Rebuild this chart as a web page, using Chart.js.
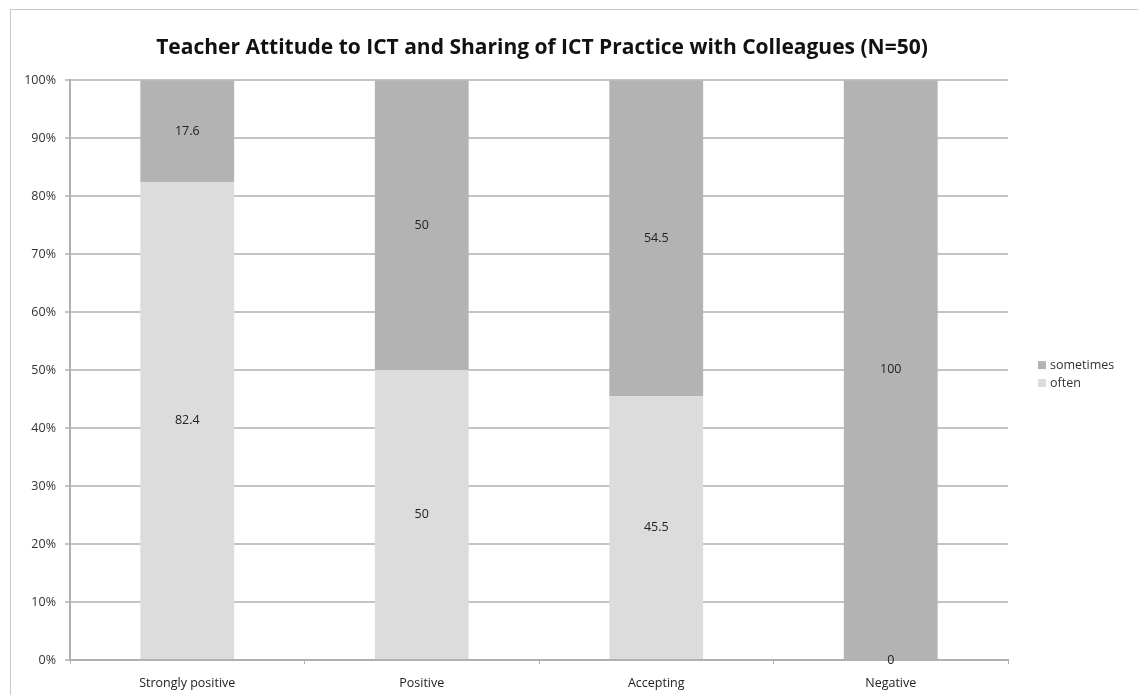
<!DOCTYPE html>
<html>
<head>
<meta charset="utf-8">
<script src="https://cdn.jsdelivr.net/npm/chart.js@4.4.1/dist/chart.umd.min.js"></script>
<style>
  html, body { margin: 0; padding: 0; background: #fff; }
  #frame { position: absolute; left: 10px; top: 9px; width: 1200px; height: 800px; border: 1px solid #c8c8c8; box-sizing: border-box; }
  #wrap { position: absolute; left: 0; top: 0; width: 1138px; height: 695px; }
</style>
</head>
<body>
<div id="frame"></div>
<div id="wrap"><canvas id="chart"></canvas></div>
<script>
// --- chart data ---
const categories = ['Strongly positive', 'Positive', 'Accepting', 'Negative'];
const oftenValues = [82.4, 50, 45.5, 0];
const sometimesValues = [17.6, 50, 54.5, 100];
const yTicks = [0, 10, 20, 30, 40, 50, 60, 70, 80, 90, 100];

const FONT = '"Open Sans", "DejaVu Sans", sans-serif';

// Value labels centred in each stacked segment
const segmentLabels = {
    id: 'segmentLabels',
    afterDatasetsDraw(chart) {
        const ctx = chart.ctx;
        ctx.save();
        ctx.font = '12.5px ' + FONT;
        ctx.fillStyle = '#222';
        ctx.textAlign = 'center';
        ctx.textBaseline = 'middle';
        chart.data.datasets.forEach((ds, i) => {
            chart.getDatasetMeta(i).data.forEach((bar, j) => {
                const mid = (bar.y + bar.base) / 2;
                ctx.fillText(String(ds.data[j]), bar.x, mid);
            });
        });
        ctx.restore();
    }
};

// Legend on the right, drawn next to the plot area
const sideLegend = {
    id: 'sideLegend',
    afterDraw(chart) {
        const ctx = chart.ctx;
        const area = chart.chartArea;
        const items = chart.data.datasets.slice().reverse();
        const x = area.right + 30;
        let y = (area.top + area.bottom) / 2 - 5;
        ctx.save();
        ctx.font = '12.5px ' + FONT;
        ctx.textBaseline = 'middle';
        items.forEach(ds => {
            ctx.fillStyle = ds.backgroundColor;
            ctx.fillRect(x, y - 4, 8, 8);
            ctx.fillStyle = '#333';
            ctx.fillText(ds.label, x + 12, y);
            y += 18;
        });
        ctx.restore();
    }
};

new Chart(document.getElementById('chart'), {
    type: 'bar',
    data: {
        labels: categories,
        datasets: [
            { label: 'often', data: oftenValues, backgroundColor: '#dcdcdc', categoryPercentage: 1, barPercentage: 0.4 },
            { label: 'sometimes', data: sometimesValues, backgroundColor: '#b3b3b3', categoryPercentage: 1, barPercentage: 0.4 }
        ]
    },
    options: {
        responsive: true,
        maintainAspectRatio: false,
        animation: false,
        layout: { padding: { left: 0, right: 54, top: 0, bottom: 0 } },
        plugins: {
            legend: { display: false },
            tooltip: { enabled: false },
            title: {
                display: true,
                text: 'Teacher Attitude to ICT and Sharing of ICT Practice with Colleagues (N=50)',
                color: '#111',
                font: { family: FONT, size: 21, weight: 'bold' },
                padding: { top: 35, bottom: 20 }
            }
        },
        scales: {
            x: {
                stacked: true,
                afterFit(scale) { scale.height = 35; },
                grid: { offset: true, drawOnChartArea: false, drawTicks: true, tickLength: 4, color: '#b0b0b0', lineWidth: 1 },
                border: { color: '#b0b0b0', width: 2 },
                ticks: { color: '#222', font: { family: FONT, size: 12.5 }, padding: 12 }
            },
            y: {
                stacked: true,
                min: 0,
                max: 100,
                afterFit(scale) { scale.width = 70; },
                afterBuildTicks(scale) { scale.ticks = yTicks.map(v => ({ value: v })); },
                grid: { color: '#c4c4c4', lineWidth: 2, tickLength: 5 },
                border: { color: '#b0b0b0', width: 2 },
                ticks: { color: '#333', font: { family: FONT, size: 12.5 }, padding: 9, callback: v => v + '%' }
            },
            // empty right-hand axis that reserves room for the legend
            legendSpace: {
                type: 'linear',
                position: 'right',
                afterFit(scale) { scale.width = 76; },
                grid: { display: false },
                border: { display: false },
                ticks: { display: false }
            }
        }
    },
    plugins: [segmentLabels, sideLegend]
});
</script>
</body>
</html>
